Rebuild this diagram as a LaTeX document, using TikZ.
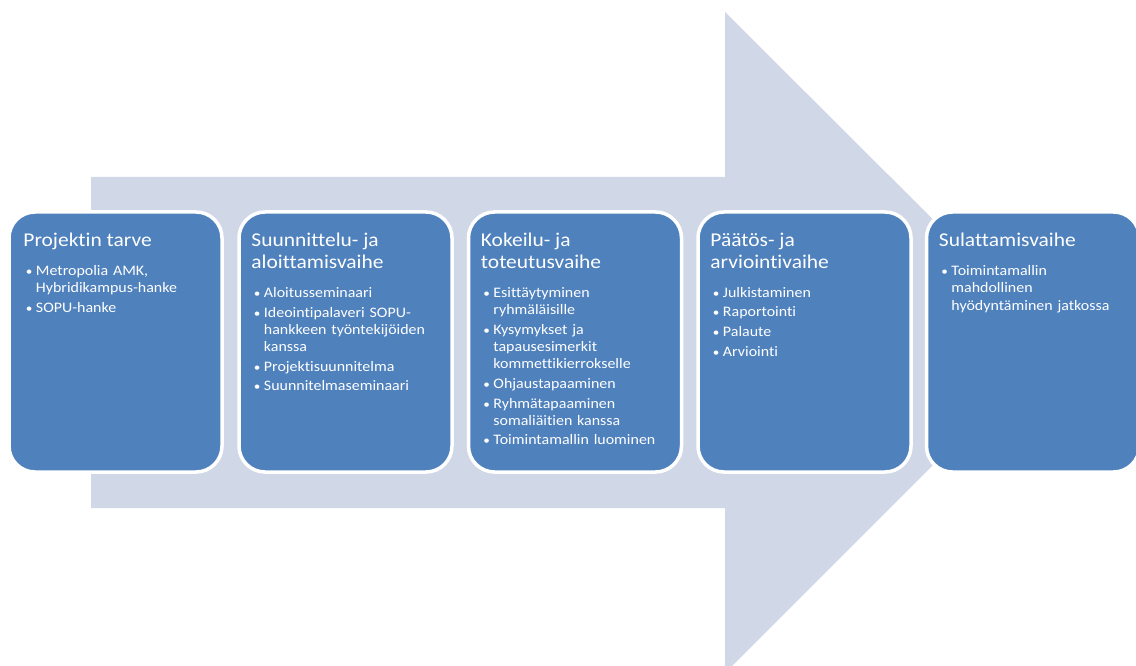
\documentclass[tikz,border=0pt]{standalone}
\usepackage{fontspec}
\setmainfont{Carlito}[FakeStretch=1.1,Ligatures=CommonOff]
\usetikzlibrary{positioning}

\definecolor{phaseblue}{RGB}{79,129,189}
\definecolor{arrowgrey}{RGB}{208,216,232}

\newcommand\phasetitle[1]{{\fontsize{19.5}{21.7}\selectfont #1\par}\vspace{9pt}}
\newcommand\phaseitem[1]{\par\vspace{2.5pt}\hangindent=12.5pt\hangafter=1\noindent
  \hspace*{2.5pt}\makebox[10pt][l]{\fontsize{12}{12}\selectfont\textbullet}#1\par}

\begin{document}
\begin{tikzpicture}[x=1pt,y=-1pt,
  phase box/.style={rectangle,rounded corners=26pt,fill=phaseblue,draw=white,
    line width=3.5pt,minimum width=213pt,minimum height=260pt,inner sep=0pt},
  phase text/.style={anchor=north west,text=white,text width=205pt,align=left,
    inner sep=0pt,font=\fontsize{14.5}{17.2}\selectfont}]

  \useasboundingbox (0,0) rectangle (1136,666);

  % big background arrow
  \fill[arrowgrey] (91,177) -- (725,177) -- (725,12) -- (1056,342)
    -- (725,673) -- (725,508) -- (91,508) -- cycle;

  \node[phase box] (p1) at (115.5,342) {};
  \node[phase box] (p2) at (345.5,342) {};
  \node[phase box] (p3) at (575,342) {};
  \node[phase box] (p4) at (804.5,342) {};
  \node[phase box] (p5) at (1033,342) {};

  \node[phase text] (t1) at ([xshift=16pt,yshift=-23pt]p1.north west) {%
    \phasetitle{Projektin tarve}
    \phaseitem{Metropolia AMK,\newline Hybridikampus-hanke}
    \phaseitem{SOPU-hanke}};
  \node[phase text] (t2) at ([xshift=14pt,yshift=-23pt]p2.north west) {%
    \phasetitle{Suunnittelu- ja\newline aloittamisvaihe}
    \phaseitem{Aloitusseminaari}
    \phaseitem{Ideointipalaveri SOPU-\newline hankkeen työntekijöiden\newline kanssa}
    \phaseitem{Projektisuunnitelma}
    \phaseitem{Suunnitelmaseminaari}};
  \node[phase text] (t3) at ([xshift=14pt,yshift=-23pt]p3.north west) {%
    \phasetitle{Kokeilu- ja\newline toteutusvaihe}
    \phaseitem{Esittäytyminen\newline ryhmäläisille}
    \phaseitem{Kysymykset ja\newline tapausesimerkit\newline kommettikierrokselle}
    \phaseitem{Ohjaustapaaminen}
    \phaseitem{Ryhmätapaaminen\newline somaliäitien kanssa}
    \phaseitem{Toimintamallin luominen}};
  \node[phase text] (t4) at ([xshift=14pt,yshift=-23pt]p4.north west) {%
    \phasetitle{Päätös- ja\newline arviointivaihe}
    \phaseitem{Julkistaminen}
    \phaseitem{Raportointi}
    \phaseitem{Palaute}
    \phaseitem{Arviointi}};
  \node[phase text] (t5) at ([xshift=14pt,yshift=-23pt]p5.north west) {%
    \phasetitle{Sulattamisvaihe}
    \phaseitem{Toimintamallin\newline mahdollinen\newline hyödyntäminen jatkossa}};
\end{tikzpicture}
\end{document}
